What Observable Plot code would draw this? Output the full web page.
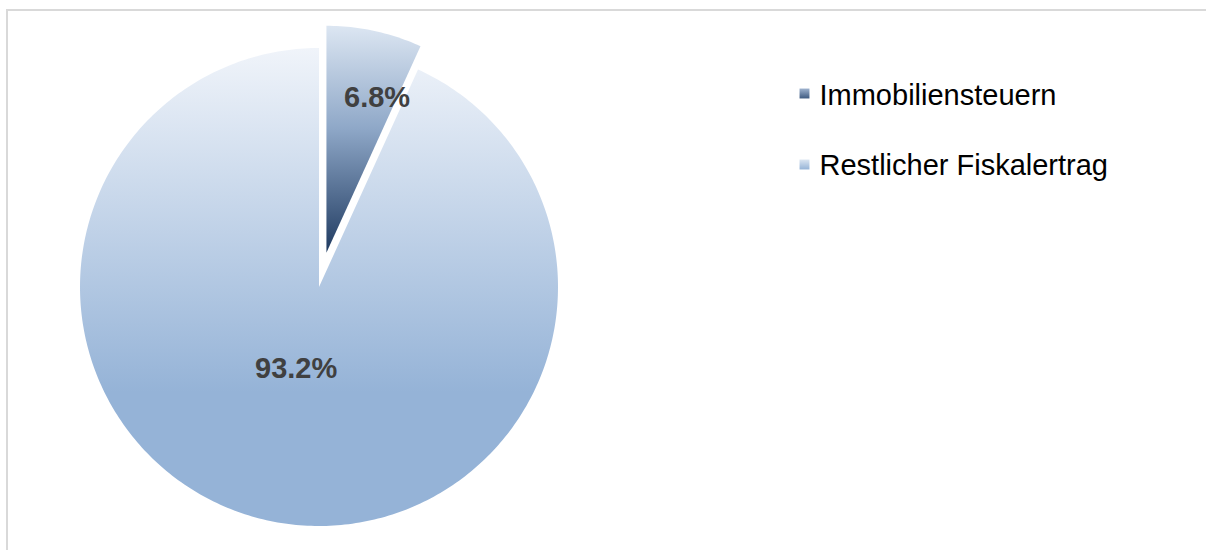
<!DOCTYPE html>
<html>
<head>
<meta charset="utf-8">
<script src="https://cdn.jsdelivr.net/npm/d3@7"></script>
<script src="https://cdn.jsdelivr.net/npm/@observablehq/plot@0.6"></script>
<style>
  html, body { margin: 0; padding: 0; background: #fff; }
  #wrap { position: relative; width: 1206px; height: 550px; overflow: hidden; }
  #frame { position: absolute; left: 6px; top: 9px; right: -4px; bottom: -4px;
           border-left: 2px solid #d9d9d9; border-top: 2px solid #d9d9d9; pointer-events: none; z-index: 2; }
  #chart svg { display: block; }
</style>
</head>
<body>
<div id="wrap"><div id="chart"></div><div id="frame"></div></div>
<script>
// ---- data ----
const categories = ["Immobiliensteuern", "Restlicher Fiskalertrag"];
const values = [6.8, 93.2];
const labels = ["6.8%", "93.2%"];

// ---- layout ----
const W = 1206, H = 550;
const cx = 318.5, cy = 286.5;
const radii = [227, 239];
const explode = [35, 0];
const labelDist = [163, 85];        // distance from slice apex
const labelAngleFrac = [0.74, 0.51]; // fraction through slice angle
const gradIds = ["gSmall", "gMain"];
const legendGradIds = ["lgSmall", "lgMain"];

const pie = d3.pie().sort(null).value(d => d)(values);

const slicePts = [];
const labelPts = [];
pie.forEach((p, i) => {
  const mid = (p.startAngle + p.endAngle) / 2;
  const ox = cx + explode[i] * Math.sin(mid);
  const oy = cy - explode[i] * Math.cos(mid);
  const r = radii[i];
  const pts = [{slice: i, x: ox, y: oy}];
  const n = Math.max(8, Math.ceil((p.endAngle - p.startAngle) / (Math.PI * 2) * 400));
  for (let k = 0; k <= n; k++) {
    const a = p.startAngle + (p.endAngle - p.startAngle) * k / n;
    pts.push({slice: i, x: ox + r * Math.sin(a), y: oy - r * Math.cos(a)});
  }
  slicePts.push(pts);
  const la = p.startAngle + (p.endAngle - p.startAngle) * labelAngleFrac[i];
  labelPts.push({x: ox + labelDist[i] * Math.sin(la), y: oy - labelDist[i] * Math.cos(la), text: labels[i]});
});

const legendData = categories.map((c, i) => ({name: c, i}));

const font = "'Liberation Sans', Arial, Helvetica, sans-serif";

const svg = Plot.plot({
  width: W, height: H,
  margin: 0,
  x: {domain: [0, W], range: [0, W], axis: null},
  y: {domain: [0, H], range: [0, H], axis: null},
  marks: [
    ...slicePts.map((pts, i) => Plot.line(pts, {x: "x", y: "y", fill: `url(#${gradIds[i]})`, stroke: "none", curve: "linear-closed"})),
    Plot.text(labelPts, {x: "x", y: "y", text: "text", fontSize: 29, fontWeight: "bold", fill: "#404040", fontFamily: font}),
    // legend
    ...legendData.map((d, i) => Plot.dot([d], {x: () => 804, y: () => 93 + i * 71, symbol: "square", r: 5.6, fill: `url(#${legendGradIds[i]})`, stroke: "none"})),
    Plot.text(legendData, {x: () => 819, y: d => 95 + d.i * 70, text: "name", textAnchor: "start", fontSize: 29, fill: "#000", fontFamily: font})
  ]
});

// gradient definitions
const defs = d3.select(svg).insert("defs", ":first-child");
function grad(id, stops) {
  const g = defs.append("linearGradient").attr("id", id).attr("x1", 0).attr("y1", 0).attr("x2", 0).attr("y2", 1);
  stops.forEach(([o, c]) => g.append("stop").attr("offset", o).attr("stop-color", c));
}
grad("gMain", [[0, "#f0f4fa"], [0.72, "#95b3d7"], [1, "#95b3d7"]]);
grad("gSmall", [[0, "#dce6f2"], [0.45, "#8fa8c8"], [1, "#1f3a60"]]);
grad("lgSmall", [[0, "#9fb3cf"], [1, "#3e5a80"]]);
grad("lgMain", [[0, "#dbe5f1"], [1, "#95b3d7"]]);

document.getElementById("chart").appendChild(svg);
</script>
</body>
</html>
